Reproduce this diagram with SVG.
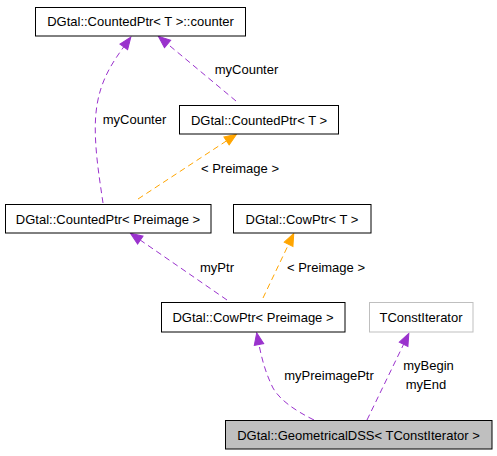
<svg xmlns="http://www.w3.org/2000/svg" width="497" height="456" viewBox="0 0 497 456">
<style>
text{font-family:"Liberation Sans",Arial,sans-serif;font-size:13px;fill:#000}
.n rect{fill:#fff;stroke:#000;stroke-width:1}
.c{text-anchor:middle}
.e{fill:none;stroke-width:1;stroke-dasharray:6,4}
.p{stroke:#9a32cd}
.o{stroke:#ffa500}
</style>
<defs>
<marker id="ap" markerUnits="userSpaceOnUse" markerWidth="14" markerHeight="12" viewBox="0 -6 14 12" refX="0" refY="0" orient="auto" overflow="visible">
<path d="M0,-4.8 L12,0 L0,4.8 z" fill="#9a32cd" stroke="#9a32cd" stroke-width="1"/>
</marker>
<marker id="ao" markerUnits="userSpaceOnUse" markerWidth="14" markerHeight="12" viewBox="0 -6 14 12" refX="0" refY="0" orient="auto" overflow="visible">
<path d="M0,-4.8 L12,0 L0,4.8 z" fill="#ffa500" stroke="#ffa500" stroke-width="1"/>
</marker>
</defs>
<rect width="497" height="456" fill="#fff"/>
<g id="connectors">
<path class="e p" d="M103,203 C99,175 92,135 97,105 C101,80 112,63 123.75,46.9" marker-end="url(#ap)"/>
<text class="c" x="134.5" y="123.5">myCounter</text>
<path class="e p" d="M236,101 L167.6,44" marker-end="url(#ap)"/>
<text class="c" x="246.5" y="73.5">myCounter</text>
<path class="e o" d="M138,199 L226.5,140.9" marker-end="url(#ao)"/>
<text class="c" x="240" y="172.5">&lt; Preimage &gt;</text>
<path class="e p" d="M227,300 L140.3,240.1" marker-end="url(#ap)"/>
<text class="c" x="217" y="271.5">myPtr</text>
<path class="e o" d="M263,298 L288.6,244.3" marker-end="url(#ao)"/>
<text class="c" x="326" y="271.5">&lt; Preimage &gt;</text>
<path class="e p" d="M314,420 C294,410 280,400 273,388 C266,374 262,360 259,344.5" marker-end="url(#ap)"/>
<text class="c" x="329" y="379.5">myPreimagePtr</text>
<path class="e p" d="M367,420 L403.6,344.3" marker-end="url(#ap)"/>
<text class="c" x="428.5" y="369.5">myBegin</text>
<text class="c" x="426" y="388.5">myEnd</text>
</g>
<g id="node_counter" class="n">
<rect x="35.5" y="7.5" width="210" height="28.5"/>
<text class="c" x="140.5" y="26">DGtal::CountedPtr&lt; T &gt;::counter</text>
</g>
<g id="node_countedT" class="n">
<rect x="179.5" y="105.5" width="159" height="28.5"/>
<text class="c" x="259" y="124.5">DGtal::CountedPtr&lt; T &gt;</text>
</g>
<g id="node_countedPreimage" class="n">
<rect x="5.5" y="204.5" width="205.5" height="28.5"/>
<text class="c" x="108" y="223.5">DGtal::CountedPtr&lt; Preimage &gt;</text>
</g>
<g id="node_cowT" class="n">
<rect x="233.5" y="204.5" width="137.5" height="28.5"/>
<text class="c" x="302" y="223.5">DGtal::CowPtr&lt; T &gt;</text>
</g>
<g id="node_cowPreimage" class="n">
<rect x="161.5" y="302.5" width="183.5" height="29.5"/>
<text class="c" x="253" y="322">DGtal::CowPtr&lt; Preimage &gt;</text>
</g>
<g id="node_iterator" class="n">
<rect x="369.5" y="302.5" width="103.5" height="29.5" style="stroke:#bfbfbf"/>
<text class="c" x="421" y="322">TConstIterator</text>
</g>
<g id="node_dss" class="n">
<rect x="225.5" y="420.5" width="266.5" height="28.5" style="fill:#bfbfbf"/>
<text class="c" x="358.5" y="439.5">DGtal::GeometricalDSS&lt; TConstIterator &gt;</text>
</g>
</svg>
